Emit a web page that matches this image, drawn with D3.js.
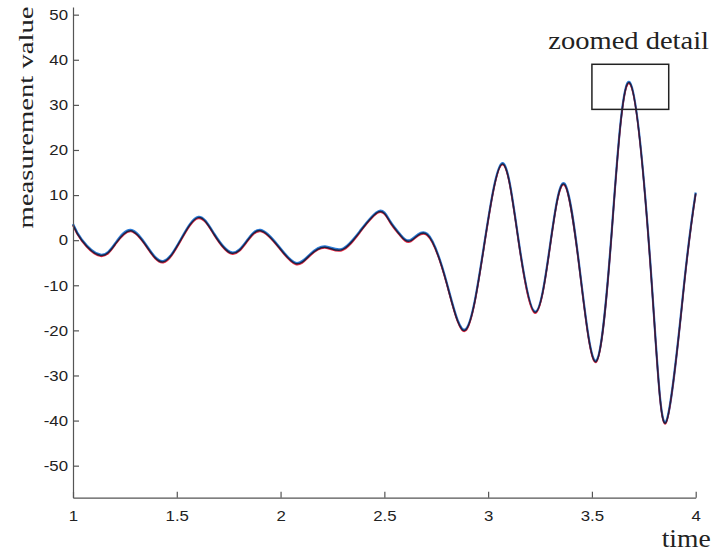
<!DOCTYPE html>
<html>
<head>
<meta charset="utf-8">
<script src="https://cdn.jsdelivr.net/npm/d3@7"></script>
<style>
  html, body { margin: 0; padding: 0; background: #fff; }
  svg { display: block; }
</style>
</head>
<body>
<svg id="chart" width="716" height="556"></svg>
<script>
// ---------------- data ----------------
const time = [1.000, 1.042, 1.133, 1.206, 1.278, 1.355, 1.435, 1.520, 1.604, 1.681,
              1.765, 1.837, 1.904, 1.989, 2.073, 2.142, 2.214, 2.294, 2.383, 2.474,
              2.527, 2.575, 2.628, 2.707, 2.800, 2.892, 2.980, 3.068, 3.145, 3.226,
              3.298, 3.367, 3.443, 3.520, 3.595, 3.683, 3.788, 3.857, 3.945, 4.000];
const measured = [3.4, 0.0, -3.4, -0.7, 2.1, -1.4, -4.8, 0.1, 5.0, 1.2,
                  -2.9, -0.3, 2.1, -1.4, -5.2, -3.3, -1.55, -2.15, 1.9, 6.3,
                  4.1, 1.2, -0.1, 1.2, -9.5, -19.9, -1.4, 16.9, 0.3, -16.0,
                  -1.4, 12.4, -7.3, -26.9, 1.5, 34.8, -9.5, -40.4, -9.5, 10.4];
const xTicks = [1, 1.5, 2, 2.5, 3, 3.5, 4];
const yTicks = [-50, -40, -30, -20, -10, 0, 10, 20, 30, 40, 50];
const xDomain = [1, 4];
const yDomain = [-57.1, 51.7];
const zoomBoxX = [3.5, 3.87];
const zoomBoxY = [29, 39];
const labels = { x: "time", y: "measurement value", box: "zoomed detail" };

// ---------------- layout ----------------
const svg = d3.select("#chart");
const plotLeft = 73, plotRight = 695.7, plotTop = 7, plotBottom = 497.7;
const x = d3.scaleLinear().domain(xDomain).range([plotLeft, plotRight]);
const y = d3.scaleLinear().domain(yDomain).range([plotBottom, plotTop]);

const pts = time.map((t, i) => [t, measured[i]]);
const line = d3.line().x(d => x(d[0])).y(d => y(d[1])).curve(d3.curveNatural);

// three overlaid traces (blue, red, dark)
const traces = [
  { color: "#2b7bd6", width: 2.2, dy: -0.8 },
  { color: "#e8283f", width: 1.6, dy: 0.8 },
  { color: "#1c2244", width: 1.5, dy: 0 }
];
traces.forEach(tr => {
  svg.append("path")
    .datum(pts)
    .attr("d", line)
    .attr("fill", "none")
    .attr("stroke", tr.color)
    .attr("stroke-width", tr.width)
    .attr("stroke-linejoin", "round")
    .attr("transform", `translate(0,${tr.dy})`);
});

// zoom box
svg.append("rect")
  .attr("x", x(zoomBoxX[0]))
  .attr("y", y(zoomBoxY[1]))
  .attr("width", x(zoomBoxX[1]) - x(zoomBoxX[0]))
  .attr("height", y(zoomBoxY[0]) - y(zoomBoxY[1]))
  .attr("fill", "none")
  .attr("stroke", "#222")
  .attr("stroke-width", 1.5);

// axes
const axisColor = "#555";
const fmt = d => String(d);
const gx = svg.append("g").attr("transform", `translate(0,${plotBottom})`)
  .call(d3.axisBottom(x).tickValues(xTicks).tickFormat(fmt).tickSizeInner(-6).tickSizeOuter(0).tickPadding(13));
const gy = svg.append("g").attr("transform", `translate(${plotLeft},0)`)
  .call(d3.axisLeft(y).tickValues(yTicks).tickFormat(fmt).tickSizeInner(-6).tickSizeOuter(0).tickPadding(5));
[gx, gy].forEach(g => {
  g.select(".domain").attr("stroke", axisColor).attr("stroke-width", 1.2);
  g.selectAll(".tick line").attr("stroke", axisColor).attr("stroke-width", 1.2);
  g.selectAll(".tick text")
    .attr("fill", "#222")
    .style("font-family", "'Liberation Sans', Arial, Helvetica, sans-serif")
    .style("font-size", "15px");
});
gx.selectAll(".tick text").attr("dy", "0.71em");
gy.selectAll(".tick text").attr("x", -5);
svg.selectAll(".tick text").each(function() {
  const w = this.getComputedTextLength();
  d3.select(this).attr("textLength", w * 1.12).attr("lengthAdjust", "spacingAndGlyphs");
});

// labels
const serif = "'Liberation Serif', 'Times New Roman', Times, serif";
svg.append("text")
  .attr("x", 710.7).attr("y", 546.7)
  .attr("text-anchor", "end")
  .style("font-family", serif).style("font-size", "26px").attr("fill", "#222")
  .attr("textLength", 49).attr("lengthAdjust", "spacingAndGlyphs")
  .text(labels.x);

svg.append("text")
  .attr("transform", "translate(33,117.5) rotate(-90)")
  .attr("text-anchor", "middle")
  .style("font-family", serif).style("font-size", "21px").attr("fill", "#222")
  .attr("textLength", 222).attr("lengthAdjust", "spacingAndGlyphs")
  .text(labels.y);

svg.append("text")
  .attr("x", 548.3).attr("y", 49.3)
  .style("font-family", serif).style("font-size", "26px").attr("fill", "#222")
  .attr("textLength", 160.7).attr("lengthAdjust", "spacingAndGlyphs")
  .text(labels.box);
</script>
</body>
</html>
